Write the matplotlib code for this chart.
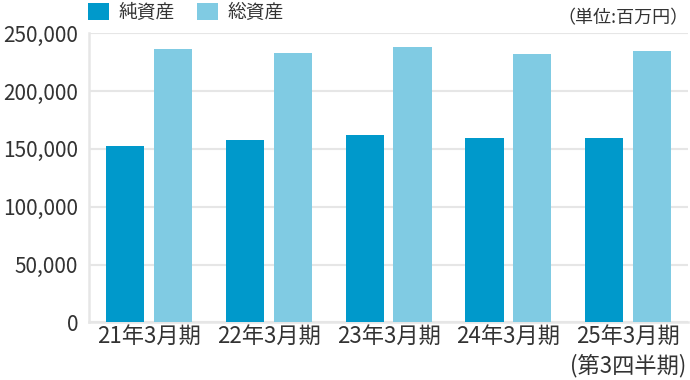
import matplotlib
matplotlib.use("Agg")
import matplotlib.pyplot as plt
import numpy as np
from matplotlib.ticker import FuncFormatter

plt.rcParams['font.family'] = ['Noto Sans CJK JP', 'DejaVu Sans']

categories = ["21年3月期", "22年3月期", "23年3月期", "24年3月期", "25年3月期\n(第3四半期)"]
net_assets = [152800, 157700, 162000, 159600, 159100]
total_assets = [236100, 233200, 238100, 232300, 234900]
series_names = ["純資産", "総資産"]
yticks = [0, 50000, 100000, 150000, 200000, 250000]
unit_label = "（単位:百万円）"

dark = "#0099cb"
light = "#80cbe3"
text_color = "#333333"
grid_color = "#e6e6e6"

fig = plt.figure(figsize=(6.9, 3.8), dpi=100)
W, H = 690, 380
left, right, top, bottom = 89.3, 688, 33.3, 322.3
ax = fig.add_axes([left / W, (H - bottom) / H, (right - left) / W, (bottom - top) / H])

x = np.arange(len(categories))
bw = 0.32
b1 = ax.bar(x - 0.2, net_assets, bw, color=dark, label=series_names[0], zorder=3)
b2 = ax.bar(x + 0.2, total_assets, bw, color=light, label=series_names[1], zorder=3)

ax.set_xlim(-0.5, len(categories) - 0.5)
ax.set_ylim(0, 250000)
ax.set_yticks(yticks)
ax.yaxis.set_major_formatter(FuncFormatter(lambda v, p: f"{int(v):,}"))
ax.set_xticks(x)
ax.set_xticklabels(categories, fontsize=16, color=text_color, linespacing=1.3)
ax.tick_params(axis='y', labelsize=15, labelcolor=text_color, length=0, pad=8)
ax.tick_params(axis='x', length=0, pad=2)

ax.grid(axis='y', color=grid_color, linewidth=1.5, zorder=0)
ax.set_axisbelow(True)
for s in ['top', 'right']:
    ax.spines[s].set_visible(False)
for s in ['left', 'bottom']:
    ax.spines[s].set_color(grid_color)
    ax.spines[s].set_linewidth(1.8)

leg = ax.legend(handles=[b1, b2], loc='lower left',
                bbox_to_anchor=(left / W - 0.002, (H - 23) / H),
                bbox_transform=fig.transFigure, ncol=2, frameon=False,
                fontsize=13.5, handlelength=1.12, handleheight=1.07,
                handletextpad=0.5, columnspacing=1.2, borderpad=0,
                borderaxespad=0)
for t in leg.get_texts():
    t.set_color(text_color)

fig.text(689 / W, 1 - 18 / H, unit_label, ha='right', va='center',
         fontsize=13, color=text_color)

fig.savefig("out.png", dpi=100)
